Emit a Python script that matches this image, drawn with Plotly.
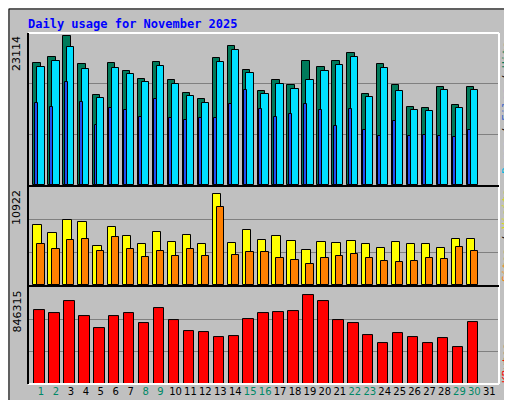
import plotly.graph_objects as go
from plotly.subplots import make_subplots

days = list(range(1, 32))
weekend = [1, 2, 8, 9, 15, 16, 22, 23, 29, 30]

# Werte (Tag 31 noch leer)
hits = [18590, 19510, 22590, 18430, 13660, 18590, 17360, 16120, 18740, 15970,
        13970, 13040, 19360, 21210, 17510, 14280, 15970, 15200, 18900, 17970,
        18900, 20130, 13810, 18430, 15200, 11810, 11660, 14890, 12120, 14890, None]
files = [17970, 18900, 21050, 17660, 13200, 17820, 16890, 15660, 18130, 15360,
         13510, 12430, 18740, 20590, 17050, 13810, 15360, 14580, 15970, 17360,
         18280, 19510, 13350, 17820, 14280, 11350, 11200, 14430, 11660, 14430, None]
pages = [12430, 11810, 15660, 12580, 9190, 11660, 11350, 10270, 13040, 10120,
         9810, 10120, 10120, 12270, 14430, 11500, 10270, 10730, 12270, 11350,
         9040, 11500, 8420, 7500, 9660, 7500, 7650, 7500, 7350, 8420, None]
visits = [6700, 5810, 7250, 7030, 4380, 6480, 5480, 4600, 5920, 4820,
          5590, 4600, 10120, 4710, 6150, 5040, 5480, 4930, 3940, 4820,
          4710, 4930, 4600, 4160, 4820, 4600, 4600, 4160, 5150, 5150, None]
sites = [4600, 4050, 5040, 5150, 3830, 5370, 4050, 3160, 3830, 3280,
         4050, 3280, 8680, 3390, 3720, 3720, 3050, 2830, 2390, 3050,
         3280, 3500, 3050, 2720, 2610, 2720, 3050, 2940, 4270, 3830, None]
kbytes = [649800, 615600, 726800, 590000, 487400, 590000, 615600, 530100, 666900, 555800,
          461700, 453200, 410400, 419000, 564300, 615600, 624200, 632700, 778100, 726800,
          555800, 530100, 427500, 359100, 444600, 410400, 359100, 401900, 324900, 538700, None]
max_hits, max_visits, max_kb = 23114, 10922, 846315

W, H = 512, 400
L, R, T, B = 20, 21, 25, 24
pw, ph = W - L - R, H - T - B

def px(x):
    return (x - L) / pw

def py(y):
    return 1 - (y - T) / ph

fig = make_subplots(rows=3, cols=1, shared_xaxes=True, row_heights=[152, 98, 97],
                    vertical_spacing=0.006)

line = dict(color="black", width=1)
fig.add_trace(go.Bar(x=days, y=hits, width=0.49, offset=-0.51, marker=dict(color="#007a5a", line=line)), 1, 1)
fig.add_trace(go.Bar(x=days, y=files, width=0.49, offset=-0.25, marker=dict(color="#00e0ff", line=line)), 1, 1)
fig.add_trace(go.Bar(x=days, y=pages, width=0.2, offset=-0.42, marker=dict(color="#2050f0", line=line)), 1, 1)
fig.add_trace(go.Bar(x=days, y=visits, width=0.56, offset=-0.51, marker=dict(color="#ffff00", line=line)), 2, 1)
fig.add_trace(go.Bar(x=days, y=sites, width=0.49, offset=-0.25, marker=dict(color="#ff8000", line=line)), 2, 1)
fig.add_trace(go.Bar(x=days, y=kbytes, width=0.7, offset=-0.45, marker=dict(color="#ff0000", line=line)), 3, 1)

for i, m in enumerate([max_hits, max_visits, max_kb], start=1):
    fig.update_yaxes(range=[0, m], tickvals=[m / 3, 2 * m / 3], showticklabels=False,
                     showgrid=True, gridcolor="#808080", gridwidth=1, zeroline=False,
                     row=i, col=1)

ticktext = [f"<span style='color:{'#008866' if d in weekend else 'black'}'>{d}</span>" for d in days]
fig.update_xaxes(range=[0.13, 31.65], showgrid=False, zeroline=False, showticklabels=False)
fig.update_xaxes(tickvals=days, ticktext=ticktext, showticklabels=True, ticks="",
                 tickfont=dict(family="DejaVu Sans", size=10), row=3, col=1)

shapes = [
    # Rahmen aussen
    dict(type="rect", xref="paper", yref="paper", x0=px(1), x1=px(505), y0=py(394), y1=py(1),
         line=dict(color="black", width=1)),
    dict(type="rect", xref="paper", yref="paper", x0=px(505), x1=px(511), y0=py(394), y1=py(3),
         line=dict(width=0), fillcolor="#808080"),
    dict(type="rect", xref="paper", yref="paper", x0=px(3), x1=px(511), y0=py(399), y1=py(394),
         line=dict(width=0), fillcolor="#808080"),
    # Plotrahmen
    dict(type="line", xref="paper", yref="paper", x0=0, x1=1, y0=1, y1=1, line=dict(color="white", width=2)),
    dict(type="line", xref="paper", yref="paper", x0=1, x1=1, y0=0, y1=1, line=dict(color="white", width=2)),
    dict(type="line", xref="paper", yref="paper", x0=0, x1=1, y0=0, y1=0, line=dict(color="white", width=2)),
    dict(type="line", xref="paper", yref="paper", x0=0, x1=0, y0=0, y1=1, line=dict(color="black", width=2)),
    dict(type="line", xref="paper", yref="paper", x0=0, x1=1, y0=py(178), y1=py(178), line=dict(color="black", width=2)),
    dict(type="line", xref="paper", yref="paper", x0=0, x1=1, y0=py(278), y1=py(278), line=dict(color="black", width=2)),
]

mono = "DejaVu Sans Mono"
annotations = [
    dict(text="<b>Daily usage for November 2025</b>", x=px(18), y=py(7), xref="paper", yref="paper",
         xanchor="left", yanchor="top", showarrow=False, font=dict(family=mono, size=12, color="#0000ff")),
]
for label, ytop in [(max_hits, 26), (max_visits, 180), (max_kb, 280)]:
    annotations.append(dict(text=str(label), textangle=-90, x=px(17), y=py(ytop), xref="paper", yref="paper",
                            xanchor="right", yanchor="top", showarrow=False,
                            font=dict(family="DejaVu Sans", size=11, color="black")))
right_labels = [
    ("<span style='color:#00b8e0'>Pages</span> / <span style='color:#3366cc'>Files</span> / <span style='color:#007a5a'>Hits</span>", 100),
    ("<span style='color:#ff8000'>Sites</span> / <span style='color:#e0e000'>Visits</span>", 228),
    ("<span style='color:#ff0000'>KBytes</span>", 355),
]
for text, ymid in right_labels:
    annotations.append(dict(text=text, textangle=-90, x=px(498), y=py(ymid), xref="paper", yref="paper",
                            xanchor="center", yanchor="middle", showarrow=False,
                            font=dict(family=mono, size=11, color="black")))

fig.update_layout(
    width=W, height=H, margin=dict(l=L, r=R, t=T, b=B),
    paper_bgcolor="#c0c0c0", plot_bgcolor="#c0c0c0",
    barmode="overlay", showlegend=False, bargap=0,
    shapes=shapes, annotations=annotations,
)

fig.write_html("out.html")
